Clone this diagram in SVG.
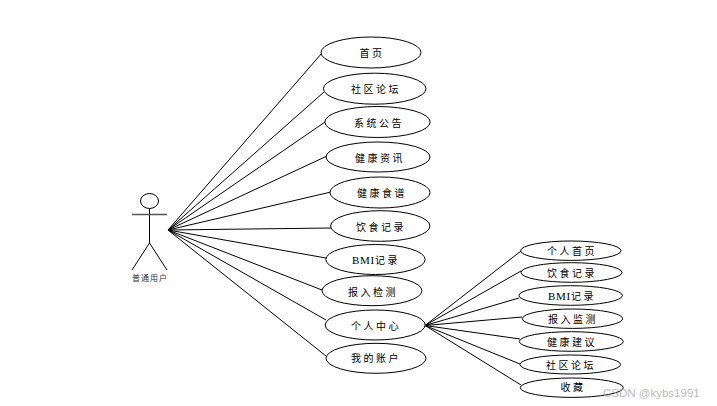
<svg xmlns="http://www.w3.org/2000/svg" width="717" height="406" viewBox="0 0 717 406">
<style>
.n ellipse{fill:#fff;stroke:#000;stroke-width:1}
.n text,.a text{font-family:"Liberation Serif","Noto Sans CJK SC",serif;font-size:10px;text-anchor:middle;fill:#000;letter-spacing:2.5px}
.n tspan{font-size:11px;letter-spacing:.8px}
.c line{stroke:#000;stroke-width:1}
.a line,.a ellipse{stroke:#000;stroke-width:1;fill:#fff}
</style>
<rect width="717" height="406" fill="#fff"/>
<g id="connectors" class="c">
<line x1="168" y1="230" x2="322" y2="53"/>
<line x1="168" y1="230" x2="324" y2="92"/>
<line x1="168" y1="230" x2="325" y2="122"/>
<line x1="168" y1="230" x2="327" y2="156"/>
<line x1="168" y1="230" x2="331" y2="192"/>
<line x1="168" y1="230" x2="331" y2="228"/>
<line x1="168" y1="230" x2="326" y2="258"/>
<line x1="168" y1="230" x2="322" y2="290"/>
<line x1="168" y1="230" x2="326" y2="320"/>
<line x1="168" y1="230" x2="326" y2="356"/>
<line x1="425" y1="325.500" x2="521" y2="251"/>
<line x1="425" y1="325.500" x2="521" y2="271"/>
<line x1="425" y1="325.500" x2="519" y2="298"/>
<line x1="425" y1="325.500" x2="522" y2="317"/>
<line x1="425" y1="325.500" x2="520" y2="339"/>
<line x1="425" y1="325.500" x2="520" y2="364"/>
<line x1="425" y1="325.500" x2="521" y2="385"/>
</g>
<g id="actor" class="a">
<ellipse cx="149.500" cy="201" rx="9" ry="7.500"/>
<line x1="149.500" y1="208.500" x2="149.500" y2="243"/>
<line x1="132" y1="214.500" x2="167" y2="214.500" style="stroke-width:1.500;stroke:#555"/>
<line x1="149.500" y1="243" x2="132" y2="270"/>
<line x1="149.500" y1="243" x2="167" y2="270"/>
<text x="150" y="281" style="font-size:8px;letter-spacing:1px;fill:#333">普通用户</text>
</g>
<g id="n1" class="n"><ellipse cx="371" cy="52.500" rx="50" ry="15.500"/><text x="372" y="57">首页</text></g>
<g id="n2" class="n"><ellipse cx="374.700" cy="88.700" rx="51.300" ry="15.500"/><text x="376" y="93">社区论坛</text></g>
<g id="n3" class="n"><ellipse cx="377.500" cy="122" rx="52.700" ry="15.500"/><text x="379" y="126.500">系统公告</text></g>
<g id="n4" class="n"><ellipse cx="378" cy="157" rx="52" ry="15"/><text x="380" y="161.500">健康资讯</text></g>
<g id="n5" class="n"><ellipse cx="380" cy="192.500" rx="50" ry="15.500"/><text x="382" y="197">健康食谱</text></g>
<g id="n6" class="n"><ellipse cx="380.300" cy="226" rx="49.700" ry="15.300"/><text x="381" y="230.500">饮食记录</text></g>
<g id="n7" class="n"><ellipse cx="375.500" cy="259.500" rx="49.700" ry="15"/><text x="376" y="264"><tspan>BMI</tspan>记录</text></g>
<g id="n8" class="n"><ellipse cx="372" cy="290.700" rx="50" ry="15"/><text x="373" y="296">报入检测</text></g>
<g id="n9" class="n"><ellipse cx="375.200" cy="325" rx="50" ry="15"/><text x="376" y="329.500">个人中心</text></g>
<g id="n10" class="n"><ellipse cx="376" cy="358.300" rx="50" ry="15"/><text x="376" y="362">我的账户</text></g>
<g id="s1" class="n"><ellipse cx="570.800" cy="250.700" rx="50.200" ry="9.700"/><text x="572" y="255">个人首页</text></g>
<g id="s2" class="n"><ellipse cx="571.500" cy="272.500" rx="50.500" ry="9.800"/><text x="572" y="276.500">饮食记录</text></g>
<g id="s3" class="n"><ellipse cx="570.700" cy="295.500" rx="51.700" ry="9.800"/><text x="572" y="299.500"><tspan>BMI</tspan>记录</text></g>
<g id="s4" class="n"><ellipse cx="572.500" cy="318.700" rx="50.200" ry="9.700"/><text x="573" y="322.500">报入监测</text></g>
<g id="s5" class="n"><ellipse cx="571.300" cy="341.500" rx="52" ry="9.800"/><text x="572" y="345.500">健康建议</text></g>
<g id="s6" class="n"><ellipse cx="570.300" cy="364.500" rx="50.300" ry="9.500"/><text x="571" y="368.500">社区论坛</text></g>
<g id="s7" class="n"><ellipse cx="571.800" cy="387.700" rx="51.500" ry="9.700"/><text x="573" y="391">收藏</text></g>
<text x="603" y="397" style="font-family:'Liberation Sans',sans-serif;font-size:11.500px;fill:#aaa;fill-opacity:.85">CSDN @kybs1991</text>
</svg>
